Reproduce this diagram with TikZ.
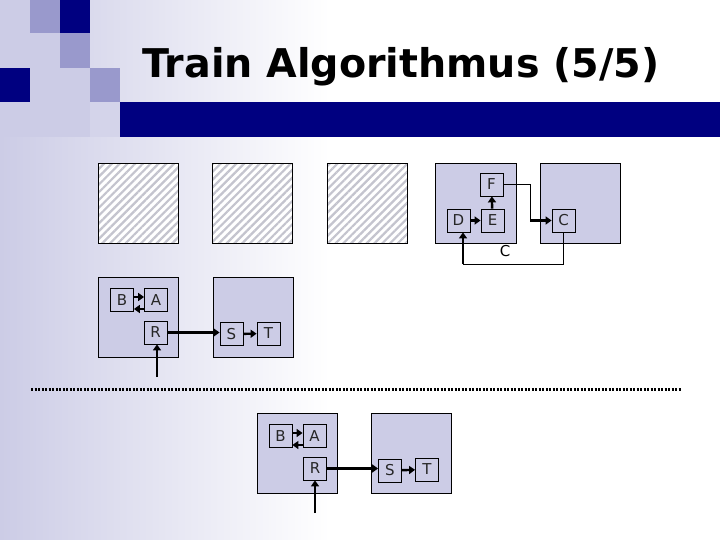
\documentclass[tikz,border=0pt]{standalone}
\usepackage{fontspec}
\setmainfont{DejaVu Sans}
\usetikzlibrary{arrows.meta,patterns.meta}
\definecolor{navy}{RGB}{0,0,128}
\definecolor{midblue}{RGB}{153,153,204}
\definecolor{lightlav}{RGB}{204,204,230}
\definecolor{lighterlav}{RGB}{212,212,234}
\definecolor{boxfill}{RGB}{204,204,230}
\definecolor{stripe}{RGB}{196,196,206}
\begin{document}
\begin{tikzpicture}[x=1pt,y=-1pt,
  container/.style={draw=black, line width=0.9pt, fill=boxfill, minimum width=80pt, minimum height=80pt, inner sep=0pt},
  hatchbox/.style={draw=black, line width=0.9pt, preaction={fill=white}, pattern={Lines[angle=45,distance=5.5pt,line width=2.2pt]}, pattern color=stripe, minimum width=80pt, minimum height=80pt, inner sep=0pt},
  small/.style={draw=black, line width=0.8pt, minimum width=23pt, minimum height=23pt, inner sep=0pt, font=\fontsize{15}{16}\selectfont, text=black!85},
  arr/.style={line width=2.4pt, -{Triangle[length=6pt,width=8pt]}},
  thinline/.style={line width=0.9pt},
  lbl/.style={font=\fontsize{15}{16}\selectfont, inner sep=0pt}
]
\useasboundingbox (0,0) rectangle (720,540);
% background
\fill[white] (0,0) rectangle (720,540);
\shade[left color=lightlav, right color=white] (0,0) rectangle (330,540);
% decorative squares
\fill[lightlav] (0,0) rectangle (90,137);
\fill[lighterlav] (90,102) rectangle (120,137);
\fill[midblue] (30,0) rectangle (60,33);
\fill[navy] (60,0) rectangle (90,33);
\fill[midblue] (60,33) rectangle (90,68);
\fill[navy] (0,68) rectangle (30,102);
\fill[midblue] (90,68) rectangle (120,102);
\fill[navy] (120,102) rectangle (720,137);
% title
\node[anchor=base west, inner sep=0pt, font=\fontsize{39.6}{41}\selectfont\bfseries] (title) at (142,78) {Train Algorithmus (5/5)};
% hatched boxes
\node[hatchbox] (H1) at (138.5,203.5) {};
\node[hatchbox] (H2) at (252,203.5) {};
\node[hatchbox] (H3) at (367,203.5) {};
% top right group
\node[container, minimum width=81pt] (P1) at (475.5,203.5) {};
\node[container] (P2) at (580.5,203.5) {};
\node[small] (F) at (491.5,184.5) {F};
\node[small] (D) at (458.5,220.5) {D};
\node[small] (E) at (492.5,220.5) {E};
\node[small] (C) at (563.5,220.5) {C};
\node[lbl] (Clbl) at (505,251) {C};
\draw[arr] (D) -- (E);
\draw[arr] (E) -- (F);
\coordinate (fc1) at (530,184.5);
\coordinate (fc2) at (530,220.5);
\draw[thinline] (F.east) -- (fc1) -- (fc2);
\draw[arr] (fc2) -- (C.west);
\coordinate (cd1) at (563.5,264);
\coordinate (cd2) at (463,264);
\draw[thinline] (C.south) -- (cd1) -- (cd2);
\draw[arr] (cd2) -- (cd2 |- D.south);
% middle group
\node[container] (M1) at (138.5,317) {};
\node[container] (M2) at (253,317) {};
\node[small] (B1) at (122,300) {B};
\node[small] (A1) at (156,300) {A};
\node[small] (R1) at (155.5,332.5) {R};
\node[small] (S1) at (231.5,334) {S};
\node[small] (T1) at (268.5,333.5) {T};
\draw[arr] ([yshift=3pt]B1.east) -- ([yshift=3pt]A1.west);
\draw[arr] ([yshift=-9pt]A1.west) -- ([yshift=-9pt]B1.east);
\draw[arr] (R1.east) -- (R1.east -| S1.west);
\draw[arr] (S1) -- (T1);
\coordinate (rin1) at (157,377);
\draw[arr] (rin1) -- (rin1 |- R1.south);
% dotted separator
\coordinate (sepL) at (31,389);
\coordinate (sepR) at (681,389);
\draw[line width=3pt, dash pattern=on 2.2pt off 1.3pt] (sepL) -- (sepR);
% bottom group
\node[container] (N1) at (297.5,453) {};
\node[container] (N2) at (411.5,453) {};
\node[small] (B2) at (280.5,436) {B};
\node[small] (A2) at (314.5,436) {A};
\node[small] (R2) at (315,468.5) {R};
\node[small] (S2) at (390,470.5) {S};
\node[small] (T2) at (427,469.5) {T};
\draw[arr] ([yshift=3pt]B2.east) -- ([yshift=3pt]A2.west);
\draw[arr] ([yshift=-9pt]A2.west) -- ([yshift=-9pt]B2.east);
\draw[arr] (R2.east) -- (R2.east -| S2.west);
\draw[arr] (S2) -- (T2);
\coordinate (rin2) at (315,513);
\draw[arr] (rin2) -- (rin2 |- R2.south);
\end{tikzpicture}
\end{document}
